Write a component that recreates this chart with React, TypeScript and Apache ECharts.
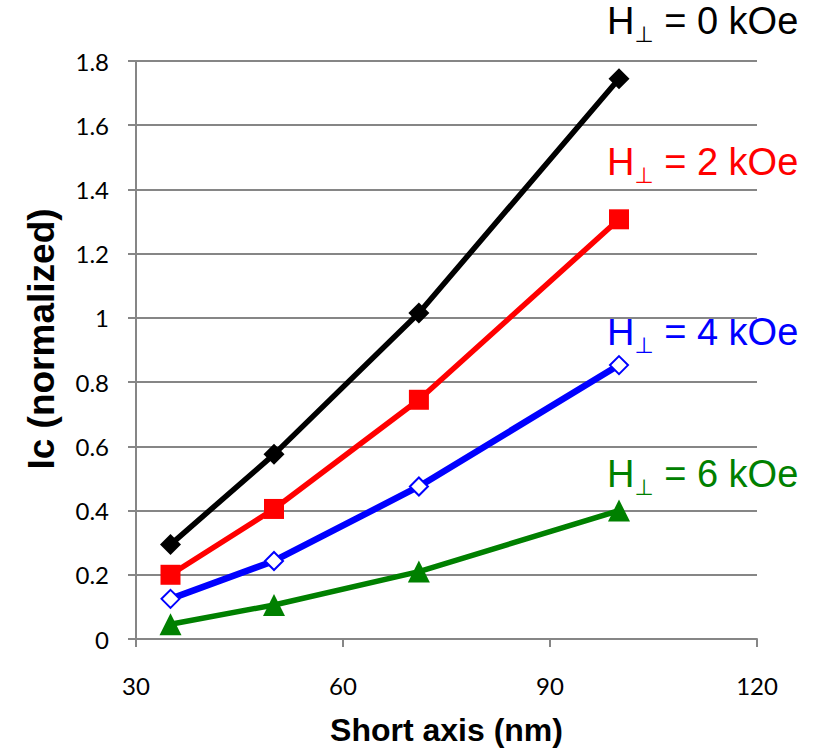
import React, { useEffect, useRef } from "react";
import * as echarts from "echarts";

const shortAxis = [35, 50, 71, 100];
const h0 = [0.294, 0.575, 1.015, 1.745];
const h2 = [0.2, 0.405, 0.745, 1.307];
const h4 = [0.125, 0.243, 0.475, 0.853];
const h6 = [0.046, 0.106, 0.21, 0.4];
const xTicks = [30, 60, 90, 120];
const labelTexts = ["0", "2", "4", "6"];

export default function App() {
  const ref = useRef<HTMLDivElement>(null);
  useEffect(() => {
    const chart = echarts.init(ref.current!, null, { renderer: "svg" });
    const mk = (vals: number[]) => shortAxis.map((x, i) => [x, vals[i]]);
    const colors = ["#000000", "#ff0000", "#0000ff", "#008000"];
    const symbols = ["diamond", "rect", "emptyDiamond", "triangle"];
    const sizes = [21, 20, 18, 22];
    const data = [h0, h2, h4, h6];
    const labelY = [45, 186, 356, 498];
    const rich = (c: string) => ({
      h: { fontSize: 38, fontFamily: "Liberation Sans", color: c },
      s: { fontSize: 22, fontFamily: "DejaVu Sans", color: c, padding: [26, 0, 0, 0] },
      t: { fontSize: 38, fontFamily: "Liberation Sans", color: c },
    });
    chart.setOption({
      animation: false,
      grid: { left: 136, right: 60, top: 61, bottom: 109 },
      xAxis: {
        type: "value",
        min: xTicks[0],
        max: xTicks[xTicks.length - 1],
        interval: 30,
        name: "Short axis (nm)",
        nameLocation: "middle",
        nameGap: 75,
        nameTextStyle: { fontFamily: "Liberation Sans", fontWeight: "bold", fontSize: 32, color: "#000" },
        axisLine: { lineStyle: { color: "#868686", width: 2 } },
        axisTick: { show: true, length: 8, lineStyle: { color: "#868686", width: 2 } },
        axisLabel: { fontFamily: "Lato", fontSize: 24, color: "#000", margin: 34 },
        splitLine: { show: false },
      },
      yAxis: {
        type: "value",
        min: 0,
        max: 1.8,
        interval: 0.2,
        name: "Ic (normalized)",
        nameLocation: "middle",
        nameGap: 76,
        nameTextStyle: {
          fontFamily: "Liberation Sans",
          fontWeight: "bold",
          fontSize: 37,
          color: "#000",
          padding: [0, 0, 0, 22],
        },
        axisLine: { show: true, lineStyle: { color: "#868686", width: 2 } },
        axisTick: { show: true, length: 8, lineStyle: { color: "#868686", width: 2 } },
        axisLabel: {
          fontFamily: "Lato",
          fontSize: 24,
          color: "#000",
          margin: 27,
          formatter: (v: number) => String(Math.round(v * 10) / 10),
        },
        splitLine: { show: true, lineStyle: { color: "#868686", width: 2 } },
      },
      graphic: data.map((_, i) => ({
        type: "text",
        x: 607,
        y: labelY[i],
        style: {
          text: `{h|H}{s|⊥}{t| = ${labelTexts[i]} kOe}`,
          rich: rich(colors[i]),
          verticalAlign: "bottom",
          fill: colors[i],
        },
      })),
      series: data.map((vals, i) => ({
        type: "line",
        data: mk(vals),
        symbol: symbols[i],
        symbolSize: sizes[i],
        lineStyle: { color: colors[i], width: i === 2 ? 6.5 : 5.5 },
        itemStyle: {
          color: colors[i],
          borderColor: colors[i],
          borderWidth: i === 2 ? 2.5 : 0,
        },
        z: 4 - i,
      })),
    });
    return () => chart.dispose();
  }, []);
  return <div ref={ref} style={{ width: 817, height: 751, position: "absolute", left: 0, top: 0 }} />;
}
